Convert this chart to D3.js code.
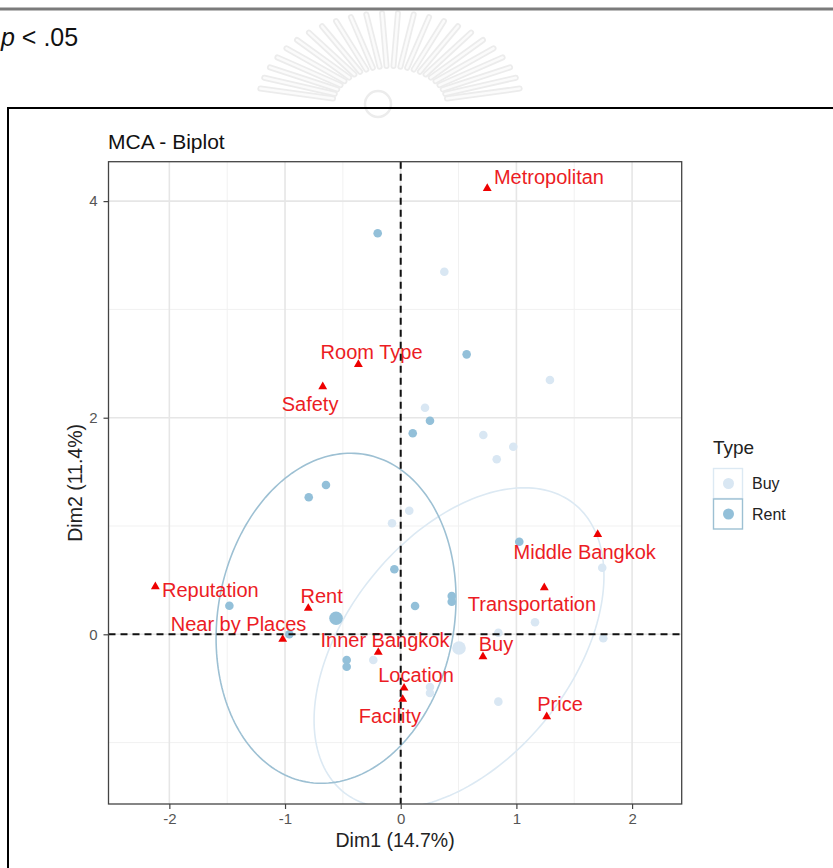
<!DOCTYPE html>
<html>
<head>
<meta charset="utf-8">
<script src="https://cdn.jsdelivr.net/npm/d3@7"></script>
<style>
  html, body { margin: 0; padding: 0; background: #fff; }
  svg { display: block; font-family: "Liberation Sans", Arial, sans-serif; }
</style>
</head>
<body>
<svg id="chart" width="833" height="868"></svg>
<script>
// ---- data -------------------------------------------------------------
const typeLevels = ["Buy", "Rent"];
const typeColors = ["#d9e7f3", "#93c0d9"];
const ellipseStroke = ["#dce9f3", "#9dc0d3"];

// individuals, coordinates on Dim1 / Dim2
const buyDim1  = [0.377, 1.290, 0.210, 0.714, 0.973, 0.830, 0.074, -0.075, 1.742, 1.161, 0.844, 1.751, -0.237, 0.253, 0.253, 0.844];
const buyDim2  = [3.348, 2.348, 2.092, 1.840, 1.732, 1.616, 1.141, 1.025, 0.615, 0.111, 0.015, -0.037, -0.237, -0.487, -0.542, -0.622];
const rentDim1 = [-0.199, 0.570, 0.253, 0.104, -0.646, -0.795, -0.055, 1.025, 0.441, 0.441, 0.124, -1.481, -0.963, -0.467, -0.467];
const rentDim2 = [3.703, 2.585, 1.972, 1.856, 1.379, 1.265, 0.600, 0.855, 0.354, 0.301, 0.261, 0.264, 0.000, -0.237, -0.299];

// group mean points
const meanDim1 = [0.504, -0.559];
const meanDim2 = [-0.127, 0.148];

// concentration ellipses: half-extent on each axis and correlation
const ellipseRx  = [1.253, 1.037];
const ellipseRy  = [1.48, 1.524];
const ellipseCor = [0.45, 0.12];

// variable categories
const varNames = ["Metropolitan", "Room Type", "Safety", "Reputation", "Rent", "Near by Places",
                  "Inner Bangkok", "Location", "Facility", "Buy", "Price", "Transportation", "Middle Bangkok"];
const varDim1 = [0.748, -0.366, -0.674, -2.121, -0.799, -1.020, -0.194, 0.029, 0.017, 0.711, 1.262, 1.241, 1.703];
const varDim2 = [4.118, 2.493, 2.286, 0.440, 0.240, -0.046, -0.166, -0.496, -0.600, -0.207, -0.761, 0.430, 0.923];

const xTicks = [-2, -1, 0, 1, 2];
const yTicks = [0, 2, 4];
const xMinor = [-1.5, -0.5, 0.5, 1.5];
const yMinor = [-1, 1, 3];

// repelled label placement (pixel offsets of the label centre from its marker)
const labelNudge = {
  "Metropolitan":   [61.7, -11.6],
  "Room Type":      [13.2, -12.6],
  "Safety":         [-12.7, 17.3],
  "Reputation":     [55.0, 3.3],
  "Rent":           [13.4, -12.6],
  "Near by Places": [-44.2, -15.0],
  "Inner Bangkok":  [6.7, -12.3],
  "Location":       [12.0, -13.0],
  "Facility":       [-12.7, 16.7],
  "Buy":            [13.0, -12.7],
  "Price":          [13.3, -12.7],
  "Transportation": [-12.3, 16.3],
  "Middle Bangkok": [-13.0, 17.4]
};

// ---- page furniture -----------------------------------------------------
const svg = d3.select("#chart");

// faint emblem in the page background
const emblem = svg.append("g").attr("transform", "translate(390,106)")
  .attr("fill", "none").attr("stroke", "#ececec").attr("stroke-linecap", "round");
d3.range(24).forEach(i => {
  const a = Math.PI * (1.06 + 0.88 * i / 23);
  emblem.append("line")
    .attr("x1", 58 * Math.cos(a)).attr("y1", 40 * Math.sin(a))
    .attr("x2", 132 * Math.cos(a)).attr("y2", 93 * Math.sin(a))
    .attr("stroke-width", 6);
  emblem.append("line")
    .attr("x1", 58 * Math.cos(a)).attr("y1", 40 * Math.sin(a))
    .attr("x2", 132 * Math.cos(a)).attr("y2", 93 * Math.sin(a))
    .attr("stroke", "#fbfbfb").attr("stroke-width", 2.5);
});
emblem.append("circle").attr("cx", -12).attr("cy", -2).attr("r", 13).attr("stroke-width", 2.5);

svg.append("rect").attr("x", 0).attr("y", 7.5).attr("width", 833).attr("height", 3).attr("fill", "#7b7b7b");
svg.append("text").attr("x", 1).attr("y", 46)
  .style("font-family", "'Liberation Sans Narrow', 'Liberation Sans', sans-serif")
  .style("font-size", "25px").attr("fill", "#111")
  .html("<tspan font-style='italic'>p</tspan> &lt; .05");

// frame around the figure
svg.append("path").attr("d", "M8,868 V108 H833").attr("fill", "none").attr("stroke", "#000").attr("stroke-width", 2);

// ---- chart ----------------------------------------------------------------
const x = d3.scaleLinear().domain([-2.526, 2.429]).range([108.5, 681.7]);
const y = d3.scaleLinear().domain([-1.567, 4.364]).range([804, 161.7]);
const [px0, px1] = x.range();
const [py1, py0] = y.range();

svg.append("text").attr("x", 108).attr("y", 149)
  .style("font-size", "21px").attr("fill", "#111").text("MCA - Biplot");

svg.append("defs").append("clipPath").attr("id", "panel")
  .append("rect").attr("x", px0).attr("y", py0).attr("width", px1 - px0).attr("height", py1 - py0);

const grid = svg.append("g");
grid.selectAll(".vmin").data(xMinor).join("line")
  .attr("x1", d => x(d)).attr("x2", d => x(d)).attr("y1", py0).attr("y2", py1)
  .attr("stroke", "#f1f1f1").attr("stroke-width", 1);
grid.selectAll(".hmin").data(yMinor).join("line")
  .attr("y1", d => y(d)).attr("y2", d => y(d)).attr("x1", px0).attr("x2", px1)
  .attr("stroke", "#f1f1f1").attr("stroke-width", 1);
grid.selectAll(".vmaj").data(xTicks).join("line")
  .attr("x1", d => x(d)).attr("x2", d => x(d)).attr("y1", py0).attr("y2", py1)
  .attr("stroke", "#e6e6e6").attr("stroke-width", 1.6);
grid.selectAll(".hmaj").data(yTicks).join("line")
  .attr("y1", d => y(d)).attr("y2", d => y(d)).attr("x1", px0).attr("x2", px1)
  .attr("stroke", "#e6e6e6").attr("stroke-width", 1.6);

const plot = svg.append("g").attr("clip-path", "url(#panel)");

// concentration ellipses
const ellipseLine = d3.line().x(d => x(d[0])).y(d => y(d[1])).curve(d3.curveLinearClosed);
typeLevels.forEach((t, i) => {
  const r = ellipseCor[i];
  const pts = d3.range(0, 200).map(k => {
    const a = k / 200 * 2 * Math.PI;
    return [meanDim1[i] + ellipseRx[i] * Math.cos(a),
            meanDim2[i] + ellipseRy[i] * (r * Math.cos(a) + Math.sqrt(1 - r * r) * Math.sin(a))];
  });
  plot.append("path").attr("d", ellipseLine(pts))
    .attr("fill", "none").attr("stroke", ellipseStroke[i]).attr("stroke-width", 1.6);
});

// individuals
const indiv = [
  ...buyDim1.map((d, i) => ({ t: 0, d1: d, d2: buyDim2[i] })),
  ...rentDim1.map((d, i) => ({ t: 1, d1: d, d2: rentDim2[i] }))
];
plot.selectAll(".ind").data(indiv).join("circle")
  .attr("cx", d => x(d.d1)).attr("cy", d => y(d.d2)).attr("r", 4.3)
  .attr("fill", d => typeColors[d.t]);

// group means
plot.selectAll(".mean").data(typeLevels).join("circle")
  .attr("cx", (d, i) => x(meanDim1[i])).attr("cy", (d, i) => y(meanDim2[i])).attr("r", 6.8)
  .attr("fill", (d, i) => typeColors[i]);

// variable categories
const vars = varNames.map((n, i) => ({ n, d1: varDim1[i], d2: varDim2[i] }));
plot.selectAll(".tri").data(vars).join("path")
  .attr("d", d3.symbol(d3.symbolTriangle, 34))
  .attr("transform", d => `translate(${x(d.d1)},${y(d.d2)})`)
  .attr("fill", "#ee0000");
plot.selectAll(".lab").data(vars).join("text")
  .attr("x", d => x(d.d1) + labelNudge[d.n][0])
  .attr("y", d => y(d.d2) + labelNudge[d.n][1])
  .attr("text-anchor", "middle").attr("dominant-baseline", "central")
  .style("font-size", "20px").attr("fill", "#ec1c24").text(d => d.n);

// reference lines through the origin
plot.append("line").attr("x1", px0).attr("x2", px1).attr("y1", y(0)).attr("y2", y(0))
  .attr("stroke", "#111").attr("stroke-width", 2).attr("stroke-dasharray", "7,5");
plot.append("line").attr("y1", py0).attr("y2", py1).attr("x1", x(0)).attr("x2", x(0))
  .attr("stroke", "#111").attr("stroke-width", 2).attr("stroke-dasharray", "7,5");

// panel border
svg.append("rect").attr("x", px0).attr("y", py0).attr("width", px1 - px0).attr("height", py1 - py0)
  .attr("fill", "none").attr("stroke", "#444").attr("stroke-width", 1.3);

// axes
const xAxis = svg.append("g").attr("transform", `translate(0,${py1})`)
  .call(d3.axisBottom(x).tickValues(xTicks).tickSize(5).tickPadding(4).tickFormat(d3.format("d")));
const yAxis = svg.append("g").attr("transform", `translate(${px0},0)`)
  .call(d3.axisLeft(y).tickValues(yTicks).tickSize(5).tickPadding(6).tickFormat(d3.format("d")));
[xAxis, yAxis].forEach(g => {
  g.select(".domain").remove();
  g.selectAll(".tick line").attr("stroke", "#444").attr("stroke-width", 1.2);
  g.selectAll(".tick text").attr("fill", "#555").style("font-size", "15px")
    .style("font-family", "'Liberation Sans', Arial, sans-serif");
});
xAxis.selectAll(".tick text").text(d => d < 0 ? "-" + Math.abs(d) : d);

svg.append("text").attr("x", (px0 + px1) / 2).attr("y", 840)
  .attr("text-anchor", "middle").attr("dominant-baseline", "central")
  .style("font-size", "19.5px").attr("fill", "#222").text("Dim1 (14.7%)");
svg.append("text").attr("transform", `translate(75,${(py0 + py1) / 2}) rotate(-90)`)
  .attr("text-anchor", "middle").attr("dominant-baseline", "central")
  .style("font-size", "19.5px").attr("fill", "#222").text("Dim2 (11.4%)");

// legend
const leg = svg.append("g");
leg.append("text").attr("x", 713).attr("y", 447).attr("dominant-baseline", "central")
  .style("font-size", "19px").attr("fill", "#222").text("Type");
typeLevels.forEach((t, i) => {
  const top = 468.5 + i * 30.5;
  leg.append("rect").attr("x", 713.5).attr("y", top).attr("width", 29).attr("height", 30)
    .attr("fill", "#fff").attr("stroke", ellipseStroke[i]).attr("stroke-width", 1.4);
  leg.append("circle").attr("cx", 728.5).attr("cy", top + 15).attr("r", 5.5).attr("fill", typeColors[i]);
  leg.append("text").attr("x", 752).attr("y", top + 15).attr("dominant-baseline", "central")
    .style("font-size", "16px").attr("fill", "#222").text(t);
});
</script>
</body>
</html>
